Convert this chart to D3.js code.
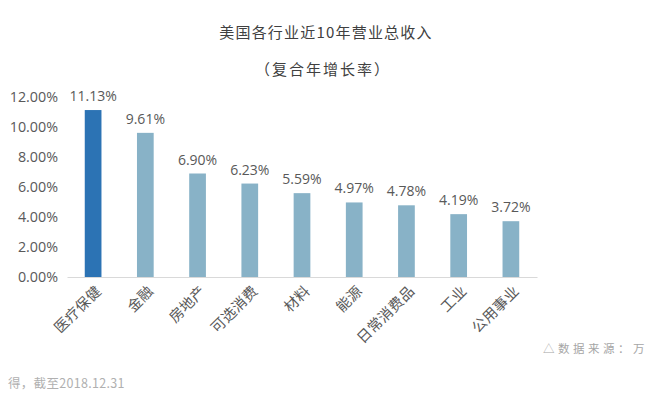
<!DOCTYPE html>
<html><head><meta charset="utf-8">
<script src="https://cdn.jsdelivr.net/npm/d3@7/dist/d3.min.js"></script>
<style>
body{margin:0;background:#fff;}
text{font-family:"Noto Sans CJK SC","Noto Sans",sans-serif;}
</style></head>
<body><svg id="c" width="651" height="403"></svg>
<script>
const categories = ["医疗保健","金融","房地产","可选消费","材料","能源","日常消费品","工业","公用事业"];
const values = [11.13, 9.61, 6.90, 6.23, 5.59, 4.97, 4.78, 4.19, 3.72];
const yTicks = [0, 2, 4, 6, 8, 10, 12];

const svg = d3.select("#c");
const x = d3.scaleBand().domain(categories).range([67, 537]).paddingInner(0.68).paddingOuter(0.34);
const y = d3.scaleLinear().domain([0, 12]).range([277, 97]);

svg.append("text").attr("x", 326).attr("y", 38).attr("text-anchor", "middle")
  .attr("font-size", 15).attr("fill", "#404040").attr("letter-spacing", 1.2).text("美国各行业近10年营业总收入");
svg.append("text").attr("x", 323).attr("y", 75).attr("text-anchor", "middle")
  .attr("font-size", 15).attr("fill", "#404040").attr("letter-spacing", 2).text("（复合年增长率）");

// y axis labels
const yAxis = d3.axisLeft(y).tickValues(yTicks).tickSize(0).tickPadding(0)
  .tickFormat(d => d.toFixed(2) + "%");
const gy = svg.append("g").attr("transform", "translate(58,0)").call(yAxis);
gy.select(".domain").remove();
gy.selectAll("text").attr("font-size", 14.3).attr("fill", "#595959")
  .style("font-family", "'Open Sans','Noto Sans',sans-serif");

// bars
svg.selectAll("rect.bar").data(values).join("rect")
  .attr("x", (d, i) => x(categories[i]))
  .attr("y", d => y(d))
  .attr("width", x.bandwidth())
  .attr("height", d => y(0) - y(d))
  .attr("fill", (d, i) => i === 0 ? "#2C73B4" : "#88B2C7");

// x axis
const xAxis = d3.axisBottom(x).tickSize(0).tickPadding(0);
const gx = svg.append("g").attr("transform", "translate(0,277)").call(xAxis);
gx.select(".domain").attr("stroke", "#d9d9d9").attr("stroke-width", 1.2);
gx.selectAll("text").attr("font-size", 14.5).attr("fill", "#595959")
  .attr("letter-spacing", 0.3)
  .attr("text-anchor", "end").attr("dy", 0).attr("y", 0)
  .attr("transform", "translate(9,15) rotate(-45)");

// value labels
svg.selectAll("text.val").data(values).join("text")
  .attr("class", "val")
  .attr("x", (d, i) => x(categories[i]) + x.bandwidth() / 2)
  .attr("y", d => y(d) - 9)
  .attr("text-anchor", "middle").attr("font-size", 14).attr("fill", "#595959")
  .style("font-family", "'Open Sans','Noto Sans',sans-serif")
  .text(d => d.toFixed(2) + "%");

svg.append("text").attr("x", 543).attr("y", 353).attr("font-size", 11.5).attr("fill", "#a6a6a6")
  .attr("letter-spacing", 3.5).text("△数据来源：万");
svg.append("text").attr("x", 8).attr("y", 388).attr("font-size", 12.5).attr("fill", "#b0b0b0")
  .attr("letter-spacing", 0.3).text("得，截至2018.12.31");
</script></body></html>
